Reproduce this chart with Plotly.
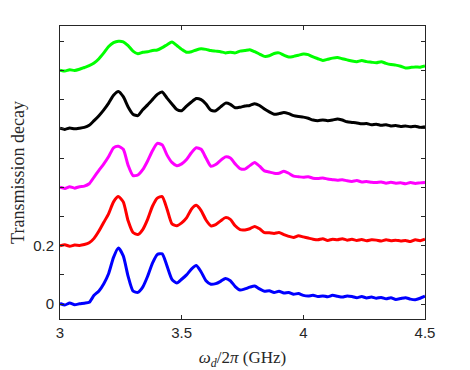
import plotly.graph_objects as go

# drive frequency (GHz)
freq = [3.00, 3.02, 3.04, 3.06, 3.08, 3.10, 3.12, 3.14, 3.16, 3.18,
        3.20, 3.22, 3.24, 3.26, 3.28, 3.30, 3.32, 3.34, 3.36, 3.38,
        3.40, 3.42, 3.44, 3.46, 3.48, 3.50, 3.52, 3.54, 3.56, 3.58,
        3.60, 3.62, 3.64, 3.66, 3.68, 3.70, 3.72, 3.74, 3.76, 3.78,
        3.80, 3.82, 3.84, 3.86, 3.88, 3.90, 3.92, 3.94, 3.96, 3.98,
        4.00, 4.02, 4.04, 4.06, 4.08, 4.10, 4.12, 4.14, 4.16, 4.18,
        4.20, 4.22, 4.24, 4.26, 4.28, 4.30, 4.32, 4.34, 4.36, 4.38,
        4.40, 4.42, 4.44, 4.46, 4.48, 4.50]

# decay curves (before vertical offset)
blue = [0.002, -0.003, 0.004, -0.002, 0.001, 0.003, 0.006, 0.030, 0.045, 0.070,
        0.105, 0.160, 0.192, 0.165, 0.095, 0.045, 0.040, 0.058, 0.095, 0.140,
        0.170, 0.172, 0.130, 0.085, 0.072, 0.085, 0.100, 0.120, 0.132, 0.110,
        0.080, 0.068, 0.070, 0.078, 0.088, 0.080, 0.060, 0.048, 0.052, 0.058,
        0.062, 0.052, 0.044, 0.046, 0.040, 0.044, 0.038, 0.040, 0.034, 0.036,
        0.030, 0.028, 0.030, 0.026, 0.028, 0.025, 0.030, 0.027, 0.024, 0.028,
        0.026, 0.022, 0.026, 0.021, 0.024, 0.020, 0.023, 0.018, 0.022, 0.016,
        0.019, 0.022, 0.017, 0.015, 0.020, 0.027]
red = [0.000, 0.003, -0.002, 0.002, 0.001, 0.004, 0.010, 0.025, 0.050, 0.080,
       0.110, 0.150, 0.168, 0.150, 0.085, 0.045, 0.038, 0.055, 0.090, 0.135,
       0.163, 0.168, 0.125, 0.075, 0.068, 0.078, 0.095, 0.125, 0.138, 0.120,
       0.088, 0.068, 0.072, 0.085, 0.096, 0.090, 0.068, 0.055, 0.054, 0.058,
       0.066, 0.058, 0.045, 0.044, 0.042, 0.045, 0.038, 0.032, 0.028, 0.034,
       0.030, 0.026, 0.022, 0.020, 0.024, 0.018, 0.022, 0.020, 0.024, 0.019,
       0.022, 0.018, 0.021, 0.017, 0.020, 0.019, 0.016, 0.020, 0.017, 0.019,
       0.016, 0.018, 0.014, 0.020, 0.017, 0.022]
magenta = [0.000, -0.004, 0.002, -0.003, 0.002, 0.004, 0.012, 0.035, 0.058, 0.080,
           0.105, 0.135, 0.140, 0.130, 0.075, 0.040, 0.042, 0.060, 0.090, 0.125,
           0.150, 0.145, 0.110, 0.085, 0.074, 0.080, 0.095, 0.118, 0.135, 0.130,
           0.100, 0.072, 0.078, 0.092, 0.104, 0.100, 0.080, 0.064, 0.062, 0.074,
           0.085, 0.072, 0.056, 0.052, 0.048, 0.048, 0.055, 0.048, 0.038, 0.036,
           0.034, 0.036, 0.031, 0.030, 0.032, 0.028, 0.026, 0.024, 0.026, 0.022,
           0.020, 0.023, 0.018, 0.020, 0.017, 0.016, 0.018, 0.014, 0.017, 0.014,
           0.015, 0.012, 0.016, 0.013, 0.015, 0.016]
black = [0.002, -0.002, 0.003, 0.000, 0.002, 0.005, 0.012, 0.028, 0.045, 0.065,
         0.088, 0.115, 0.128, 0.110, 0.075, 0.050, 0.045, 0.065, 0.082, 0.100,
         0.118, 0.126, 0.105, 0.085, 0.066, 0.062, 0.078, 0.092, 0.104, 0.100,
         0.085, 0.064, 0.062, 0.075, 0.088, 0.084, 0.072, 0.074, 0.078, 0.080,
         0.086, 0.080, 0.068, 0.058, 0.050, 0.052, 0.056, 0.052, 0.045, 0.042,
         0.040, 0.036, 0.030, 0.028, 0.030, 0.028, 0.030, 0.034, 0.030, 0.024,
         0.022, 0.020, 0.017, 0.018, 0.014, 0.016, 0.012, 0.014, 0.010, 0.011,
         0.008, 0.010, 0.007, 0.009, 0.005, 0.007]
green = [0.001, -0.002, 0.002, 0.000, 0.004, 0.010, 0.016, 0.025, 0.040, 0.060,
         0.082, 0.095, 0.100, 0.098, 0.085, 0.066, 0.057, 0.062, 0.064, 0.068,
         0.070, 0.078, 0.088, 0.097, 0.085, 0.072, 0.062, 0.064, 0.070, 0.074,
         0.072, 0.068, 0.066, 0.064, 0.060, 0.062, 0.060, 0.066, 0.068, 0.071,
         0.064, 0.056, 0.048, 0.050, 0.058, 0.060, 0.052, 0.046, 0.048, 0.052,
         0.056, 0.054, 0.046, 0.040, 0.034, 0.038, 0.042, 0.044, 0.040, 0.036,
         0.032, 0.030, 0.034, 0.030, 0.028, 0.026, 0.030, 0.024, 0.020, 0.018,
         0.014, 0.008, 0.010, 0.012, 0.011, 0.015]

curves = [blue, red, magenta, black, green]
offsets = [0.0, 0.2, 0.4, 0.6, 0.8]
colors = ['#0000ff', '#ff0000', '#ff00ff', '#000000', '#00ff00']

fig = go.Figure()
for vals, off, col in zip(curves, offsets, colors):
    fig.add_trace(go.Scatter(x=freq, y=[v + off for v in vals], mode='lines',
                             line=dict(color=col, width=3, shape='spline', smoothing=0.6),
                             showlegend=False))

ytick = [0, 0.1, 0.2, 0.3, 0.4, 0.5, 0.6, 0.7, 0.8, 0.9]
ylab = ['0', '', '0.2', '', '', '', '', '', '', '']

axis_style = dict(showline=True, linecolor='#262626', linewidth=1, mirror='ticks',
                  ticks='inside', ticklen=4, tickcolor='#262626', showgrid=False,
                  zeroline=False, automargin=False,
                  tickfont=dict(family='Liberation Sans', size=15, color='#262626'))

fig.update_xaxes(range=[3, 4.5], tickvals=[3, 3.5, 4, 4.5], ticktext=['3', '3.5', '4', '4.5'],
                 ticklabelstandoff=0,
                 title=dict(text='<i>ω<sub>d</sub></i>/2<i>π</i> (GHz)',
                            font=dict(family='Liberation Serif', size=17, color='#262626'),
                            standoff=23),
                 **axis_style)
fig.update_yaxes(range=[-0.051, 0.952], tickvals=ytick, ticktext=ylab,
                 ticklabelstandoff=2,
                 title=dict(text='Transmission decay',
                            font=dict(family='Liberation Serif', size=18, color='#262626'),
                            standoff=16),
                 **axis_style)
# page body adds an 8px margin, so the figure is a bit smaller than the window
fig.update_layout(width=462, height=362, margin=dict(l=52, r=45, t=18, b=51),
                  plot_bgcolor='white', paper_bgcolor='white')
fig.write_html("out.html")
